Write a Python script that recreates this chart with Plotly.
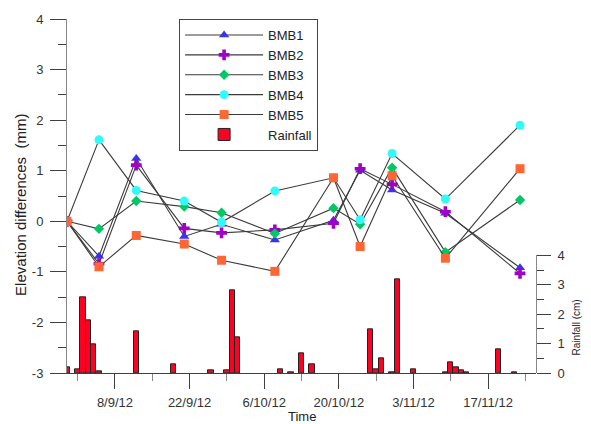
import plotly.graph_objects as go

# ---------------- data ----------------
survey_dates = ["2012-08-30", "2012-09-05", "2012-09-12", "2012-09-21", "2012-09-28",
                "2012-10-08", "2012-10-19", "2012-10-24", "2012-10-30", "2012-11-09",
                "2012-11-23"]
BMB1 = [0, -0.69, 1.24, -0.30, -0.06, -0.37, 0.02, 1.01, 0.62, 0.16, -0.92]
BMB2 = [0, -0.84, 1.11, -0.14, -0.23, -0.17, -0.04, 1.04, 0.73, 0.19, -1.03]
BMB3 = [0, -0.15, 0.40, 0.29, 0.17, -0.24, 0.26, -0.06, 1.06, -0.61, 0.42]
BMB4 = [0, 1.61, 0.61, 0.40, -0.02, 0.60, 0.86, 0.03, 1.34, 0.44, 1.90]
BMB5 = [0, -0.90, -0.28, -0.45, -0.77, -0.99, 0.86, -0.50, 0.90, -0.73, 1.04]

rain_dates = ["2012-08-30", "2012-09-01", "2012-09-02", "2012-09-03", "2012-09-04",
              "2012-09-05", "2012-09-12", "2012-09-19", "2012-09-26", "2012-09-29",
              "2012-09-30", "2012-10-01", "2012-10-09", "2012-10-11", "2012-10-13",
              "2012-10-15", "2012-10-26", "2012-10-27", "2012-10-28", "2012-10-30",
              "2012-10-31", "2012-11-03", "2012-11-09", "2012-11-10", "2012-11-11",
              "2012-11-12", "2012-11-13", "2012-11-19", "2012-11-22"]
rainfall = [0.18, 0.13, 2.56, 1.79, 0.99, 0.05, 1.40, 0.28, 0.10, 0.10,
            2.82, 1.21, 0.13, 0.03, 0.67, 0.28, 1.48, 0.11, 0.49, 0.03,
            3.20, 0.11, 0.03, 0.37, 0.19, 0.09, 0.03, 0.81, 0.03]

x_tick_dates = ["2012-09-08", "2012-09-22", "2012-10-06", "2012-10-20", "2012-11-03", "2012-11-17"]
x_tick_labels = ["8/9/12", "22/9/12", "6/10/12", "20/10/12", "3/11/12", "17/11/12"]
x_minor_dates = ["2012-09-01", "2012-09-15", "2012-09-29", "2012-10-13", "2012-10-27",
                 "2012-11-10", "2012-11-24"]
y_tick_vals = [-3, -2, -1, 0, 1, 2, 3, 4]
y_tick_labels = ["-3", "-2", "-1", "0", "1", "2", "3", "4"]
y2_tick_vals = [0, 1, 2, 3, 4]

series = [
    ("BMB1", BMB1, "triangle-up", "#3535F0", 9),
    ("BMB2", BMB2, "cross", "#A000C8", 9),
    ("BMB3", BMB3, "diamond", "#00C864", 8),
    ("BMB4", BMB4, "circle", "#30FAFA", 9),
    ("BMB5", BMB5, "square", "#FF6633", 9),
]

FONT = "Liberation Sans, Arial, sans-serif"
AX = "#404040"

fig = go.Figure()

for i, (name, vals, sym, col, sz) in enumerate(series):
    fig.add_trace(go.Scatter(
        x=survey_dates, y=vals, name=name, mode="lines+markers",
        line=dict(color="#3a3a3a", width=1.1),
        marker=dict(symbol=sym, color=col, size=sz, line=dict(width=0)),
        legendrank=1000 + i,
    ))

fig.add_trace(go.Bar(
    x=rain_dates, y=rainfall, name="Rainfall", xaxis="x", yaxis="y2",
    width=86400000 * 1.0,
    marker=dict(color="#FF0022", line=dict(color="#222222", width=1)),
    showlegend=True, legendrank=1006,
))

fig.update_layout(
    width=591, height=424,
    margin=dict(l=67, r=55, t=15, b=51),
    paper_bgcolor="white", plot_bgcolor="rgba(0,0,0,0)",
    font=dict(family=FONT, size=13, color="#333333"),
    showlegend=True,
    legend=dict(x=0.239, y=1.0, xanchor="left", yanchor="top",
                bordercolor="#444444", borderwidth=1, bgcolor="white",
                font=dict(size=13, color="#222222"), itemwidth=78,
                tracegroupgap=0, traceorder="normal"),
    bargap=0,
    xaxis=dict(
        type="date", range=["2012-08-30", "2012-11-26"],
        tickmode="array", tickvals=x_tick_dates, ticktext=x_tick_labels,
        ticks="outside", ticklen=15, tickwidth=1, tickcolor=AX,
        showline=True, linecolor=AX, linewidth=1,
        showgrid=False, zeroline=False, ticklabelstandoff=2,
        minor=dict(tickmode="array", tickvals=x_minor_dates, ticks="outside",
                   ticklen=7, tickcolor="#888888", showgrid=False),
        anchor="y",
    ),
    yaxis=dict(
        range=[-3, 4], tickmode="array", tickvals=y_tick_vals, ticktext=y_tick_labels,
        ticks="outside", ticklen=16, tickwidth=1, tickcolor=AX,
        showline=True, linecolor="#888888", linewidth=1,
        showgrid=False, zeroline=False, ticklabelstandoff=4,
        minor=dict(dtick=0.5, ticks="outside", ticklen=8, tickcolor=AX, showgrid=False),
        domain=[0, 1], anchor="x",
    ),
    yaxis2=dict(
        range=[0, 4], domain=[0, 0.3324], anchor="x", side="right",
        tickmode="array", tickvals=y2_tick_vals,
        ticks="outside", ticklen=14, tickwidth=1, tickcolor=AX,
        showline=True, linecolor="#888888", linewidth=1,
        showgrid=False, zeroline=False, ticklabelstandoff=4,
        minor=dict(dtick=0.5, ticks="outside", ticklen=7, tickcolor=AX, showgrid=False),
    ),
    annotations=[
        dict(text="Elevation differences  (mm)", textangle=-90, xref="paper", yref="paper",
             x=-0.098, y=0.475, xanchor="center", yanchor="middle", showarrow=False,
             font=dict(size=15, color="#222222")),
        dict(text="Rainfall (cm)", textangle=-90, xref="paper", yref="paper",
             x=1.087, y=0.128, xanchor="center", yanchor="middle", showarrow=False,
             font=dict(size=10, color="#222222")),
        dict(text="Time", xref="paper", yref="paper",
             x=0.5, y=-0.123, xanchor="center", yanchor="middle", showarrow=False,
             font=dict(size=13, color="#222222")),
    ],
)

fig.write_html("out.html")
